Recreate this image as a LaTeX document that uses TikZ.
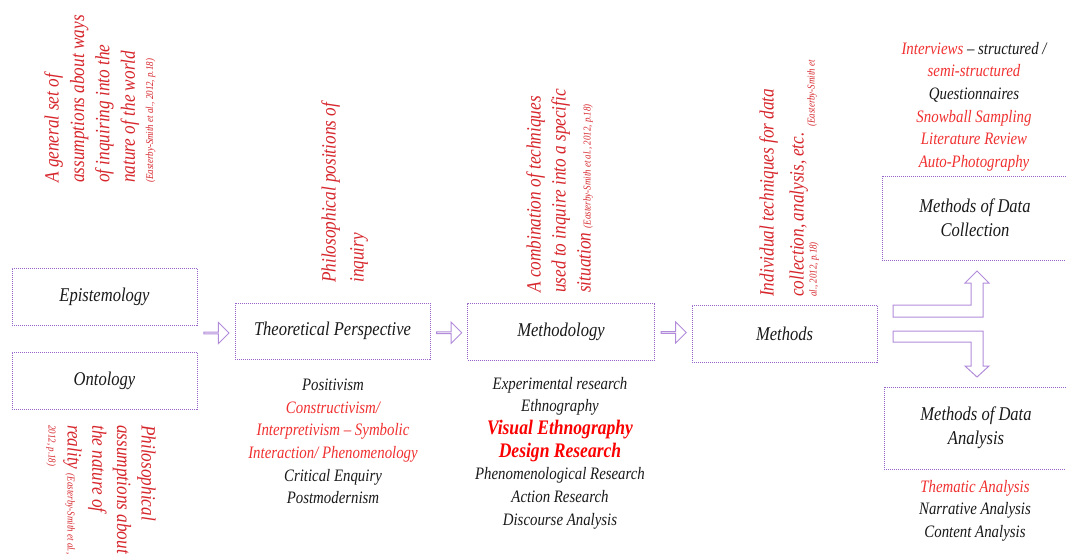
\documentclass[tikz,border=0pt]{standalone}
\usepackage{fontspec}
\setmainfont{Liberation Serif}[FakeStretch=0.85]
\usetikzlibrary{shapes.arrows,calc}

\definecolor{boxpurple}{RGB}{150,100,200}
\definecolor{arrowpurple}{RGB}{178,140,218}
\definecolor{ink}{RGB}{25,25,25}
\definecolor{notered}{RGB}{214,38,44}
\definecolor{listred}{RGB}{240,48,48}
\definecolor{boldred}{RGB}{250,0,0}

\newcommand\boxfont{\fontsize{14.6}{18}\selectfont\itshape}
\newcommand\listfont{\fontsize{13.1}{17}\selectfont\itshape}
\newcommand\notefont[1]{\fontsize{15.2}{#1}\selectfont\itshape}
\newcommand\citefont{\fontsize{7.9}{9}\selectfont}
\newcommand\hl[1]{{\color{listred}#1}}
\newcommand\boldred[1]{{\fontsize{15.5}{17}\selectfont\bfseries\color{boldred}#1}}

\begin{document}
\begin{tikzpicture}[x=0.75pt,y=-0.75pt,
  box/.style={draw=boxpurple, line width=0.75pt, dash pattern=on 0.75pt off 0.75pt,
    inner sep=0pt, font=\boxfont, text=ink, align=center},
  blockarrow/.style={draw=arrowpurple, line width=0.75pt, fill=white, line join=miter},
  rightarrow/.style={single arrow, blockarrow, inner sep=0pt,
    minimum height=18.75pt, minimum width=15.75pt, single arrow head extend=3.75pt},
  listtext/.style={font=\listfont, text=ink, align=center, inner sep=0pt},
  note/.style={text=notered, align=left, inner sep=0pt}
]
\useasboundingbox (0,0) rectangle (1066,553);

% the five stages of the research design
\node[box, minimum width=185*0.75pt, minimum height=57*0.75pt] (epi) at (104.5,296.5) {Epistemology};
\node[box, minimum width=185*0.75pt, minimum height=57*0.75pt] (ont) at (104.5,380.5) {Ontology};
\node[box, minimum width=195*0.75pt, minimum height=56*0.75pt] (tp) at (332.5,331) {Theoretical Perspective};
\node[box, minimum width=187*0.75pt, minimum height=57*0.75pt] (mt) at (561,331.5) {Methodology};
\node[box, minimum width=185*0.75pt, minimum height=57*0.75pt] (md) at (784.5,333.5) {Methods};
\node[box, minimum width=186*0.75pt, minimum height=84*0.75pt] (col) at (975,218) {Methods of  Data\\Collection};
\node[box, minimum width=184*0.75pt, minimum height=82*0.75pt] (ana) at (976,428) {Methods of  Data\\Analysis};

% block arrows between the stages
\node[rightarrow] (a1) at ($(epi.east |- tp.west)!0.5!(tp.west)+(0,2)$) {};
\node[rightarrow] (a2) at ($(tp.east)!0.5!(mt.west)+(0,1.5)$) {};
\node[rightarrow] (a3) at ($(mt.east)!0.5!(md.west)$) {};

% split arrow from Methods to collection and analysis
\draw[blockarrow] (893,305) -- (971,305) -- (971,283) -- (965,283) -- (977,271)
  -- (989,283) -- (983,283) -- (983,317) -- (893,317) -- cycle;
\draw[blockarrow] (893,331) -- (983,331) -- (983,366) -- (989,366) -- (977,377)
  -- (965,366) -- (971,366) -- (971,342) -- (893,342) -- cycle;

% definitions written sideways
\node[note, rotate=90, anchor=north west, font=\notefont{19.1pt}] (epinote) at (44,183)
  {A general set of\\assumptions about ways\\of inquiring into the\\nature of  the world\\[-5.5pt]
   {\citefont(Easterby-Smith et al., 2012, p.18)}};
\node[note, rotate=-90, anchor=north west, font=\notefont{18.5pt}] (ontnote) at (156,425)
  {Philosophical\\assumptions about\\the nature of\\reality {\citefont(Easterby-Smith et al.,}\\[-4.3pt]
   {\citefont 2012, p.18)}};
\node[note, rotate=90, anchor=north west, font=\notefont{21pt}] (tpnote) at (321,283)
  {Philosophical positions of\\inquiry};
\node[note, rotate=90, anchor=north west, font=\notefont{18.75pt}] (mtnote) at (526,293)
  {A combination of  techniques\\used to inquire into a specific\\situation {\citefont(Easterby-Smith et al., 2012, p.18)}};
\node[note, rotate=90, anchor=north west, font=\notefont{22.5pt}] (mdnote) at (759,297)
  {Individual techniques for data\\collection,\,analysis,\,etc. \smash{\raisebox{-8.25pt}{\citefont(Easterby-Smith et}}\\[-12.75pt]
   {\citefont al., 2012, p.18)}};

% examples listed under each stage
\node[listtext] (tplist) at (333,441.5)
  {Positivism\\\hl{Constructivism/}\\\hl{Interpretivism \textendash{} Symbolic}\\\hl{Interaction/  Phenomenology}\\Critical Enquiry\\Postmodernism};
\node[listtext] (mtlist) at (560,453)
  {Experimental research\\Ethnography\\\boldred{Visual Ethnography}\\\boldred{Design Research}\\Phenomenological Research\\Action Research\\Discourse Analysis};
\node[listtext] (collist) at (974,106.5)
  {\hl{Interviews} \textendash{} structured /\\\hl{semi-structured}\\Questionnaires\\\hl{Snowball Sampling}\\\hl{Literature Review}\\\hl{Auto-Photography}};
\node[listtext] (analist) at (975,510.5)
  {\hl{Thematic Analysis}\\Narrative Analysis\\Content Analysis};
\end{tikzpicture}
\end{document}
